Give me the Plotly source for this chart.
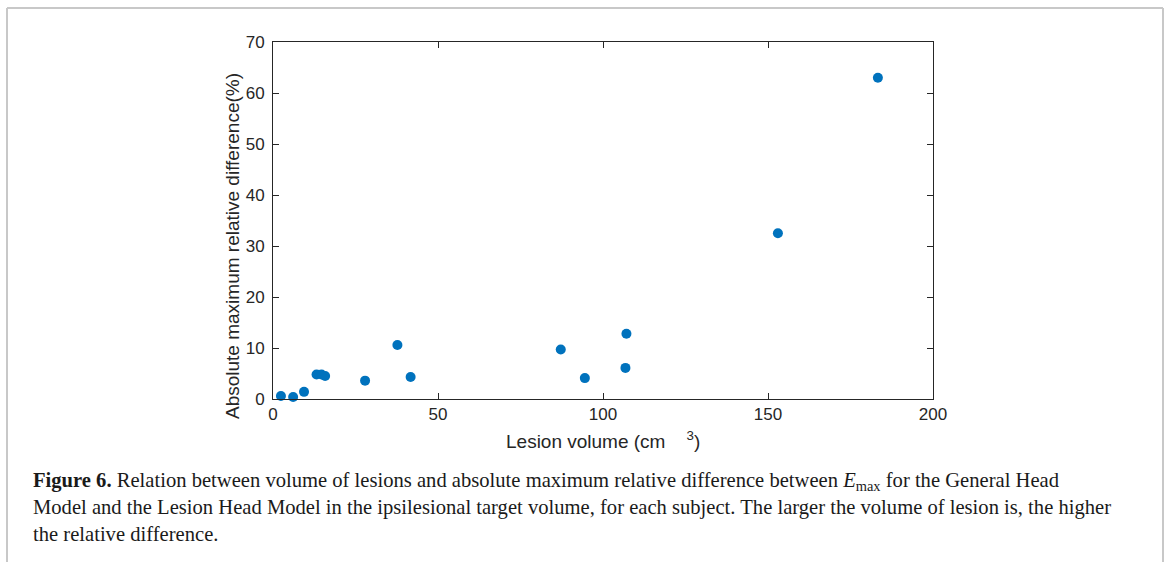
import plotly.graph_objects as go

volume = [2.4, 6.1, 9.4, 13.2, 14.7, 15.8, 27.9, 37.7, 41.7, 87.2, 94.5, 106.8, 107.1, 153.0, 183.3]
rel_diff = [0.6, 0.4, 1.4, 4.8, 4.8, 4.5, 3.6, 10.6, 4.3, 9.7, 4.1, 6.1, 12.8, 32.5, 63.0]
x_ticks = [0, 50, 100, 150, 200]
y_ticks = [0, 10, 20, 30, 40, 50, 60, 70]

W, H = 1167, 562
L, R, T, B = 273, 933, 42, 399
PW, PH = R - L, B - T

def px(x):
    return (x - L) / PW

def py(y):
    return (B - y) / PH

fig = go.Figure()
fig.add_trace(go.Scatter(
    x=volume, y=rel_diff, mode="markers",
    marker=dict(color="#0072BD", size=10, line=dict(width=0)),
    showlegend=False, cliponaxis=False,
))

axis_common = dict(
    showgrid=False, zeroline=False, showline=True, linecolor="#262626", linewidth=1,
    mirror="allticks", ticks="inside", ticklen=6, tickcolor="#262626",
    tickfont=dict(family="Liberation Sans, Arial, sans-serif", size=17, color="#262626"),
)
fig.update_xaxes(range=[0, 200], tickvals=x_ticks, ticklabelstandoff=0, **axis_common)
fig.update_yaxes(range=[0, 70], tickvals=y_ticks, ticklabelstandoff=4, **axis_common)

fig.update_layout(
    width=W, height=H,
    margin=dict(l=L, r=W - R, t=T, b=H - B),
    paper_bgcolor="white", plot_bgcolor="white",
    annotations=[
        dict(text="Lesion volume (cm&nbsp;&nbsp;&nbsp;&nbsp;<sup>3</sup>)", xref="paper", yref="paper",
             x=px(603), y=py(440), xanchor="center", yanchor="middle", showarrow=False,
             font=dict(family="Liberation Sans, Arial, sans-serif", size=19, color="#262626")),
        dict(text="Absolute maximum relative difference(%)", xref="paper", yref="paper",
             x=px(232), y=py(246), xanchor="center", yanchor="middle", textangle=-90, showarrow=False,
             font=dict(family="Liberation Sans, Arial, sans-serif", size=19, color="#262626")),
        dict(text="<b>Figure 6.</b> Relation between volume of lesions and absolute maximum relative difference between <i>E</i><sub>max</sub> for the General Head<br>"
                  "Model and the Lesion Head Model in the ipsilesional target volume, for each subject. The larger the volume of lesion is, the higher<br>"
                  "the relative difference.",
             xref="paper", yref="paper", x=px(31), y=py(467),
             xanchor="left", yanchor="top", align="left", showarrow=False,
             font=dict(family="Liberation Serif, DejaVu Serif, serif", size=20.6, color="#1a1a1a")),
    ],
    shapes=[
        dict(type="line", xref="paper", yref="paper", x0=px(7), x1=px(1163),
             y0=py(8), y1=py(8), line=dict(color="#c8c8c8", width=2)),
        dict(type="line", xref="paper", yref="paper", x0=px(7), x1=px(7),
             y0=py(8), y1=py(562), line=dict(color="#c8c8c8", width=2)),
        dict(type="line", xref="paper", yref="paper", x0=px(1163), x1=px(1163),
             y0=py(8), y1=py(562), line=dict(color="#c8c8c8", width=2)),
    ],
)
fig.write_html("out.html", config={"displayModeBar": False},
               post_script="document.body.style.margin='0';document.body.style.overflow='hidden';")
